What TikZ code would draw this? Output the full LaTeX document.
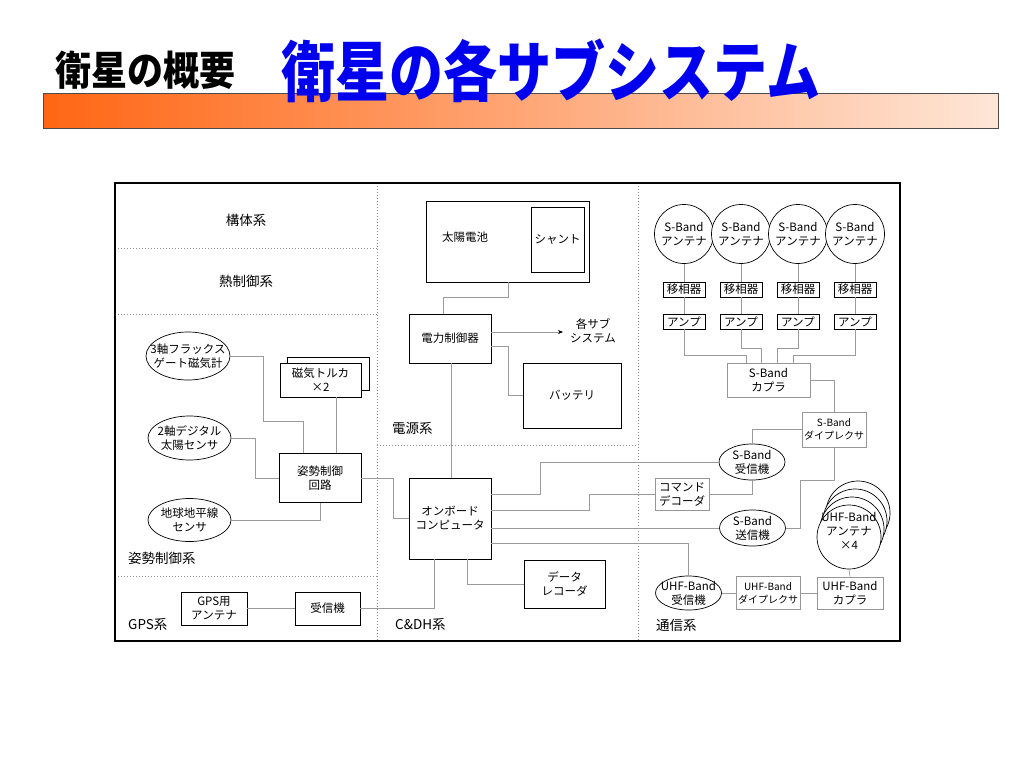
\documentclass[tikz,border=0pt]{standalone}
\usepackage{fontspec}
\setmainfont{Noto Sans CJK JP}
\usepackage{graphicx}
\usetikzlibrary{shapes.geometric,arrows.meta}
\definecolor{lnk}{RGB}{155,155,155}
\definecolor{gbd}{RGB}{150,150,150}
\definecolor{ttlblue}{RGB}{0,0,238}
\definecolor{barL}{RGB}{255,102,20}
\definecolor{barR}{RGB}{254,230,215}
\begin{document}
\begin{tikzpicture}[x=1pt,y=-1pt,
  txt/.style={font=\fontsize{11.5}{14}\selectfont, align=center, inner sep=0pt},
  box/.style={txt, draw=black, line width=0.7pt, fill=white},
  gbox/.style={txt, draw=gbd, line width=0.7pt, fill=white},
  ell/.style={ellipse, draw=black, line width=0.7pt, fill=white, inner sep=0pt},
  circ/.style={circle, draw=black, line width=0.7pt, fill=white, inner sep=0pt, minimum size=59pt},
  conn/.style={draw=lnk, line width=0.7pt},
  divl/.style={draw=gray!85, line width=0.7pt, dash pattern=on 1pt off 2pt},
  lbl/.style={font=\fontsize{13.5}{16}\selectfont, inner sep=0pt},
  sm/.style={font=\fontsize{10}{13}\selectfont},
]
\useasboundingbox (0,0) rectangle (1024,768);
\fill[white] (0,0) rectangle (1024,768);

% header
\node[draw=gray!60!black, line width=0.6pt, left color=barL, right color=barR,
      minimum width=955pt, minimum height=35pt, anchor=north west, inner sep=0pt] (bar) at (43,93) {};
\node[font=\fontsize{36}{36}\selectfont\bfseries, inner sep=0pt] (t1) at (145,70) {\scalebox{1}[1.12]{衛星の概要}};
\node[font=\fontsize{54}{54}\selectfont\bfseries, text=ttlblue, inner sep=0pt] (t2) at (551,71) {\scalebox{1}[1.22]{衛星の各サブシステム}};

% dividers
\draw[divl] (377,183) -- (377,641);
\draw[divl] (638,183) -- (638,641);
\draw[divl] (115,248) -- (377,248);
\draw[divl] (115,314) -- (377,314);
\draw[divl] (115,576) -- (377,576);
\draw[divl] (377,445) -- (638,445);

% left panel
\node[lbl] (lk) at (246,220) {構体系};
\node[lbl] (lt) at (246,281) {熱制御系};
\node[lbl, anchor=west] (la) at (128,558) {姿勢制御系};
\node[lbl, anchor=west] (lg) at (128,624) {GPS系};
\node[box, minimum width=82pt, minimum height=33pt] (tqb) at (328,373.5) {};
\node[box, minimum width=81pt, minimum height=34pt] (tq) at (320.5,380) {磁気トルカ\\×2};
\node[ell, minimum width=84pt, minimum height=48pt] (mag) at (188,356) {};
\node[txt] (magt) at (mag) {3軸フラックス\\ゲート磁気計};
\node[ell, minimum width=83pt, minimum height=44pt] (ads) at (189.5,438) {};
\node[txt] (adst) at (ads) {2軸デジタル\\太陽センサ};
\node[ell, minimum width=83pt, minimum height=43pt] (ehs) at (189.5,520) {};
\node[txt] (ehst) at (ehs) {地球地平線\\センサ};
\node[box, minimum width=82pt, minimum height=49pt] (acs) at (320,478) {姿勢制御\\回路};
\node[box, minimum width=66pt, minimum height=33pt] (gpsant) at (214,608.5) {GPS用\\アンテナ};
\node[box, minimum width=65pt, minimum height=33pt] (gpsrx) at (327.5,608.5) {受信機};

% middle panel
\node[box, minimum width=163pt, minimum height=81pt] (solar) at (507.5,241.5) {};
\node[txt] (solart) at (465,237) {太陽電池};
\node[box, minimum width=53pt, minimum height=65pt] (shunt) at (557.5,239.5) {シャント};
\node[box, minimum width=82pt, minimum height=49pt] (pcu) at (450,338.5) {電力制御器};
\node[txt] (subs) at (593,331) {各サブ\\システム};
\coordinate (subarr) at (563,332);
\node[box, minimum width=98pt, minimum height=65pt] (bat) at (572,395.5) {バッテリ};
\node[lbl, anchor=west] (lp) at (392,428) {電源系};
\node[box, minimum width=82pt, minimum height=81pt] (obc) at (450,518.5) {オンボード\\コンピュータ};
\node[box, minimum width=81pt, minimum height=48pt] (dr) at (564.5,584) {データ\\レコーダ};
\node[lbl, anchor=west] (lc) at (395,624) {C\&DH系};

% right panel
\foreach \i/\x in {1/684,2/741,3/798,4/855}{
  \node[circ] (ant\i) at (\x,234) {};
  \node[txt] at (ant\i) {S-Band\\アンテナ};
  \node[box, minimum width=42pt, minimum height=15pt] (ps\i) at (\x,289.5) {移相器};
  \node[box, minimum width=42pt, minimum height=15pt] (amp\i) at (\x,321.5) {アンプ};
  \draw[conn] (ant\i.south) -- (ps\i.north);
  \draw[conn] (ps\i.south) -- (amp\i.north);
}
\node[gbox, minimum width=83pt, minimum height=34pt] (scpl) at (768.5,380) {S-Band\\カプラ};
\node[gbox, sm, minimum width=64pt, minimum height=35pt] (sdip) at (834,429.5) {S-Band\\ダイプレクサ};
\node[ell, minimum width=66pt, minimum height=36pt] (srx) at (752,462) {};
\node[txt] (srxt) at (srx) {S-Band\\受信機};
\node[gbox, minimum width=54pt, minimum height=32pt] (cmd) at (682,494) {コマンド\\デコーダ};
\node[ell, minimum width=66pt, minimum height=36pt] (stx) at (752.5,528) {};
\node[txt] (stxt) at (stx) {S-Band\\送信機};
\foreach \k in {3,2,1}{
  \node[circ, minimum size=64pt] (uantb\k) at ({849+3*\k},{537-8*\k}) {};
}
\node[circ, minimum size=64pt] (uant) at (849,537) {};
\node[txt] (uantt) at (849,531) {UHF-Band\\アンテナ\\×4};
\node[gbox, minimum width=66pt, minimum height=32pt] (ucpl) at (850,593) {UHF-Band\\カプラ};
\node[gbox, sm, minimum width=64pt, minimum height=33pt] (udip) at (768,593) {UHF-Band\\ダイプレクサ};
\node[ell, minimum width=66pt, minimum height=34pt] (urx) at (688.5,593) {};
\node[txt] (urxt) at (urx) {UHF-Band\\受信機};
\node[lbl, anchor=west] (lcm) at (656,625) {通信系};

% connectors left
\draw[conn] (mag.east) -- (263,356) -- (263,421) -- (303,421) -- (303,0 |- acs.north);
\draw[conn] (tq.south -| 336,0) -- (336,0 |- acs.north);
\draw[conn] (ads.east) -- (255,438) |- (acs.west);
\draw[conn] (ehs.east) -| (acs.south);
\draw[conn] (acs.east) -- (393,478) |- (obc.west);
\draw[conn] (gpsant) -- (gpsrx);
\draw[conn] (gpsrx.east) -| (434,0 |- obc.south);

% connectors middle
\draw[conn] (508,0 |- solar.south) -- (508,297) -| (443,0 |- pcu.north);
\draw[conn, -{Stealth[length=5pt,width=4pt,color=black]}] (pcu.east |- 0,332) -- (subarr);
\draw[conn] (pcu.east |- 0,346) -- (508,346) |- (bat.west);
\draw[conn] (451,0 |- pcu.south) -- (451,0 |- obc.north);
\draw[conn] (467,0 |- obc.south) |- (dr.west);

% OBC to comms
\draw[conn] (obc.east |- 0,494) -- (540,494) |- (srx.west);
\draw[conn] (obc.east |- 0,510) -- (589,510) |- (cmd.west);
\draw[conn] (obc.east |- stx.west) -- (stx.west);
\draw[conn] (obc.east |- 0,543) -| (urx.north);

% comms internal
\draw[conn] (amp1.south) |- (746,355) -- (746,0 |- scpl.north);
\draw[conn] (amp2.south) |- (761,348) -- (761,0 |- scpl.north);
\draw[conn] (amp3.south) |- (777,348) -- (777,0 |- scpl.north);
\draw[conn] (amp4.south) |- (793,355) -- (793,0 |- scpl.north);
\draw[conn] (scpl.east) -| (sdip.north);
\draw[conn] (sdip.west) -| (srx.north);
\draw[conn] (srx.south) |- (cmd.east);
\draw[conn] (sdip.south) |- (800,480) |- (stx.east);
\draw[conn] (uant.south) -- (ucpl.north);
\draw[conn] (urx.east) -- (udip.west);
\draw[conn] (udip.east) -- (ucpl.west);

% frame
\draw[line width=2.5pt] (115,183) rectangle (900,641);
\end{tikzpicture}
\end{document}
